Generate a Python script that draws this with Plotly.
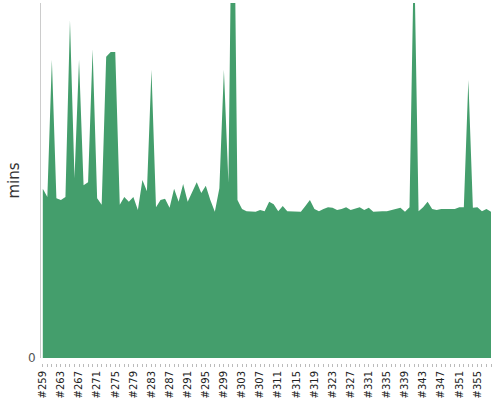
import plotly.graph_objects as go

# build runs #259 .. #358
runs = list(range(259, 359))

# minutes per run
mins = [
    28.6, 27.2, 50.4, 27.0, 26.7, 27.2, 57.1, 30.4, 50.4, 29.2,
    29.7, 52.2, 27.0, 25.9, 50.9, 51.7, 51.7, 25.9, 27.2, 26.4,
    27.2, 25.0, 30.1, 28.2, 48.7, 25.5, 26.7, 26.9, 25.4, 28.6,
    26.4, 29.4, 26.4, 28.2, 29.7, 27.9, 29.1, 26.7, 24.7, 28.7,
    48.7, 29.6, 97.2, 26.7, 25.2, 24.8, 24.7, 24.7, 25.0, 24.8,
    26.4, 26.0, 24.8, 25.7, 24.8, 24.8, 24.8, 24.7, 25.7, 26.7,
    25.2, 24.8, 25.2, 25.5, 25.4, 25.0, 25.2, 25.5, 25.0, 25.2,
    25.5, 25.0, 25.4, 24.7, 24.8, 24.8, 24.8, 25.0, 25.2, 25.4,
    24.7, 25.5, 69.8, 24.8, 25.5, 26.4, 25.2, 25.0, 25.2, 25.2,
    25.2, 25.2, 25.5, 25.5, 47.0, 25.4, 25.5, 24.8, 25.2, 24.7,
]

tick_runs = runs[::4]
tick_text = ["#%d" % r for r in tick_runs]

fig = go.Figure()
fig.add_trace(go.Scatter(
    x=runs, y=mins, mode="lines", fill="tozeroy",
    fillcolor="#449e6c", line=dict(width=0, color="#449e6c"),
    hoverinfo="skip", showlegend=False,
))

fig.update_layout(
    width=500, height=400,
    margin=dict(l=41, r=9, t=3, b=37),
    plot_bgcolor="white", paper_bgcolor="white",
    font=dict(family="DejaVu Sans", color="#333"),
    xaxis=dict(
        range=[258.6, 358.0],
        anchor="free", position=0, automargin=False,
        tickmode="array", tickvals=tick_runs, ticktext=tick_text,
        tickangle=-90, tickfont=dict(size=10, color="#222"),
        ticks="outside", ticklen=3, tickcolor="#bbb",
        minor=dict(dtick=1, ticks="outside", ticklen=3, tickcolor="#bbb"),
        showgrid=False, zeroline=False, showline=False,
    ),
    yaxis=dict(
        domain=[5 / 360, 1],
        range=[0, 60], automargin=False,
        tickvals=[0], ticktext=["0"],
        tickfont=dict(size=12, color="#555"),
        ticklabelstandoff=2,
        title=dict(text="mins", font=dict(size=15, color="#333"), standoff=4),
        showgrid=False, zeroline=False,
        showline=True, linecolor="#ccc", linewidth=1,
    ),
)

# page body has an 8px default margin, drop it so the chart sits at 0,0
fig.write_html("out.html", config={"displayModeBar": False},
               post_script="document.body.style.margin='0';")
